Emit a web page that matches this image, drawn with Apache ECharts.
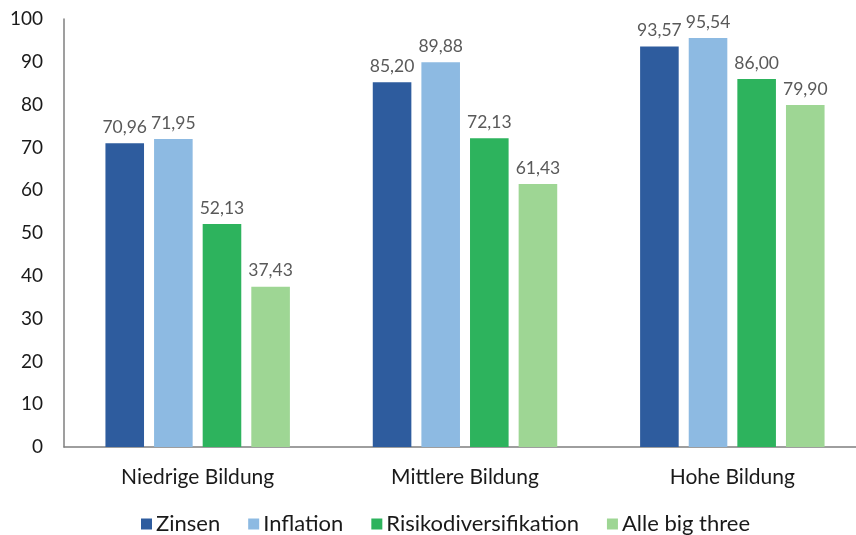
<!DOCTYPE html>
<html>
<head>
<meta charset="utf-8">
<script src="https://cdn.jsdelivr.net/npm/echarts@6/dist/echarts.min.js"></script>
<style>
  html, body { margin: 0; padding: 0; background: #fff; }
  #chart { width: 856px; height: 535px; }
</style>
</head>
<body>
<div id="chart"></div>
<script>
// Bildungsgruppen und Anteile je Themenbereich
const categories = ['Niedrige Bildung', 'Mittlere Bildung', 'Hohe Bildung'];
const seriesNames = ['Zinsen', 'Inflation', 'Risikodiversifikation', 'Alle big three'];
const zinsen = [70.96, 85.20, 93.57];
const inflation = [71.95, 89.88, 95.54];
const risiko = [52.13, 72.13, 86.00];
const alle = [37.43, 61.43, 79.90];
const colors = ['#2E5C9E', '#8DBAE2', '#2DB35D', '#9ED694'];

const FONT = 'Lato, "Open Sans", sans-serif';
const values = [zinsen, inflation, risiko, alle];

const chart = echarts.init(document.getElementById('chart'));
chart.setOption({
  animation: false,
  textStyle: { fontFamily: FONT },
  // plot area runs slightly past the right edge of the canvas
  grid: { left: 64, width: 802, top: 19, bottom: 88, outerBoundsMode: 'none' },
  legend: {
    top: 508,
    left: 136,
    padding: 5,
    itemWidth: 11,
    itemHeight: 11,
    itemGap: 28,
    icon: 'rect',
    textStyle: { fontFamily: FONT, fontSize: 22, color: '#1a1a1a', padding: [0, 0, 0, -1] },
    data: seriesNames
  },
  xAxis: {
    type: 'category',
    data: categories,
    axisLine: { lineStyle: { color: '#7f7f7f', width: 1.5 } },
    axisTick: { show: false },
    axisLabel: { fontSize: 21, color: '#1a1a1a', margin: 20, fontFamily: FONT }
  },
  yAxis: {
    type: 'value',
    min: 0,
    max: 100,
    interval: 10,
    splitLine: { show: false },
    axisLine: { show: true, lineStyle: { color: '#7f7f7f', width: 1.5 } },
    axisTick: { show: false },
    axisLabel: { fontSize: 19, color: '#1a1a1a', margin: 21, fontFamily: FONT }
  },
  series: seriesNames.map((name, i) => ({
    name: name,
    type: 'bar',
    data: values[i],
    barGap: '26%',
    barCategoryGap: '31%',
    itemStyle: { color: colors[i] },
    label: {
      show: true,
      position: 'top',
      distance: 7,
      fontSize: 17.5,
      color: '#595959',
      fontFamily: FONT,
      formatter: p => p.value.toFixed(2).replace('.', ',')
    }
  }))
});
</script>
</body>
</html>
